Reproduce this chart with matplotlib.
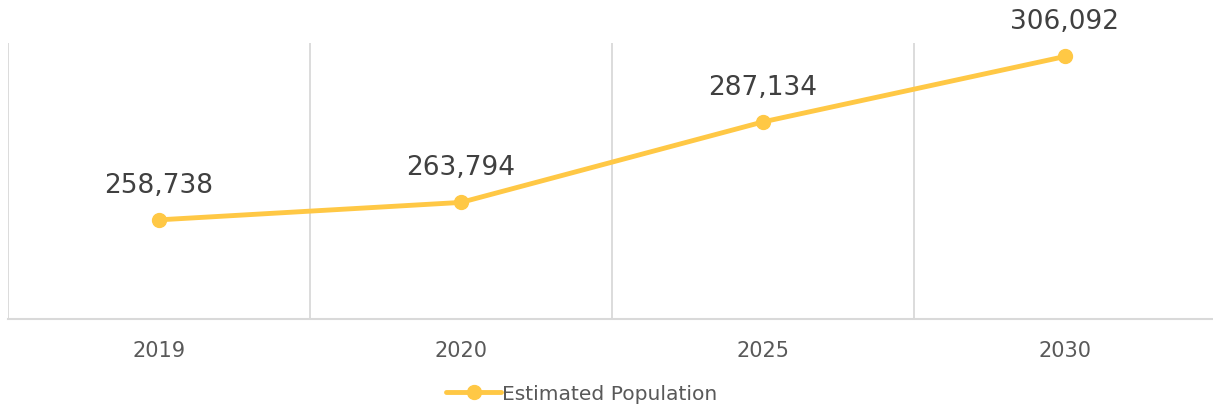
import numpy as np
import matplotlib.pyplot as plt

years = ['2019', '2020', '2025', '2030']
population = [258738, 263794, 287134, 306092]
series_name = 'Estimated Population'

line_color = '#FFC845'
grid_color = '#D9D9D9'

fig = plt.figure(figsize=(12.13, 4.06), dpi=100)
ax = fig.add_axes([8/1213, 1-320/406, 1208/1213, 276/406])

x = np.arange(len(years))
ax.plot(x, population, color=line_color, linewidth=3.5, marker='o',
        markersize=10, solid_capstyle='round', label=series_name, zorder=3)

for xi, v in zip(x, population):
    ax.annotate(f'{v:,}', (xi, v), xytext=(0, 16), textcoords='offset points',
                ha='center', va='bottom', fontsize=19, color='#404040')

ax.set_xlim(-0.5, len(years)-0.5)
ax.set_ylim(230000, 310000)
ax.set_xticks(x)
ax.set_xticklabels(years, fontsize=15, color='#595959')
ax.set_yticks([])
ax.set_xticks(np.arange(len(years)+1)-0.5, minor=True)
ax.tick_params(axis='x', which='both', length=0, pad=15)
ax.grid(True, axis='x', which='minor', color=grid_color, linewidth=1.3)

for s in ['top', 'right', 'left']:
    ax.spines[s].set_visible(False)
ax.spines['bottom'].set_color(grid_color)
ax.spines['bottom'].set_linewidth(1.5)

leg = fig.legend(loc='center', bbox_to_anchor=(582/1213, 1-395/406), frameon=False,
                 fontsize=14.6, handlelength=2.7, handletextpad=0.05)
for t in leg.get_texts():
    t.set_color('#595959')

fig.savefig('out.png', dpi=100)
